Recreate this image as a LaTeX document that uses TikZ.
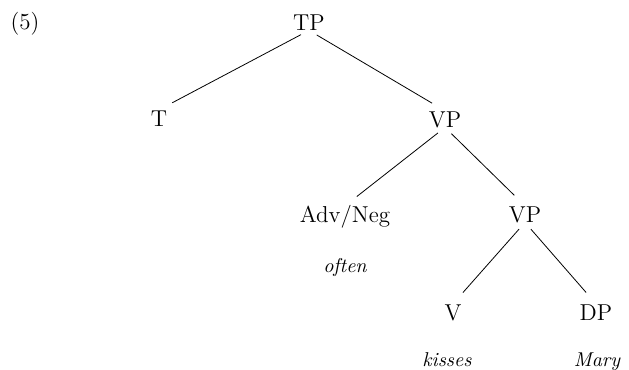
\documentclass[tikz,border=0pt]{standalone}
\usepackage{pgf,tikz}
\usetikzlibrary{positioning}
\tikzstyle{cat}=[anchor=base, inner sep=0pt, text height=7.9pt, text depth=0pt]
\tikzstyle{word}=[anchor=base, inner sep=0pt, font=\itshape]
\tikzstyle{branch}=[shorten <=4.5pt, shorten >=7.5pt]
\begin{document}
\begin{tikzpicture}[x=0.5pt, y=-0.5pt, font=\fontsize{11.5}{13.5}\selectfont]
	\useasboundingbox (0,0) rectangle (629,370);
	\node[anchor=base, inner sep=0pt] (ex) at (25,29) {(5)};
	% categories
	\node[cat] (tp) at (309,30) {TP};
	\node[cat] (t) at (159,126) {T};
	\node[cat] (vp) at (445,127) {VP};
	\node[cat] (adv) at (345,222) {Adv/Neg};
	\node[cat] (vpb) at (525,222) {VP};
	\node[cat] (v) at (453,320) {V};
	\node[cat] (dp) at (596,320) {DP};
	% words
	\node[word] (often) at (345,272) {often};
	\node[word] (kisses) at (447,366) {kisses};
	\node[word] (mary) at (597,366) {Mary};
	% branches
	\draw[branch] (tp.south) -- (t.north);
	\draw[branch] (tp.south) -- (vp.north);
	\draw[branch] (vp.south) -- (adv.north);
	\draw[branch] (vp.south) -- (vpb.north);
	\draw[branch] (vpb.south) -- (v.north);
	\draw[branch] (vpb.south) -- (dp.north);
\end{tikzpicture}
\end{document}
